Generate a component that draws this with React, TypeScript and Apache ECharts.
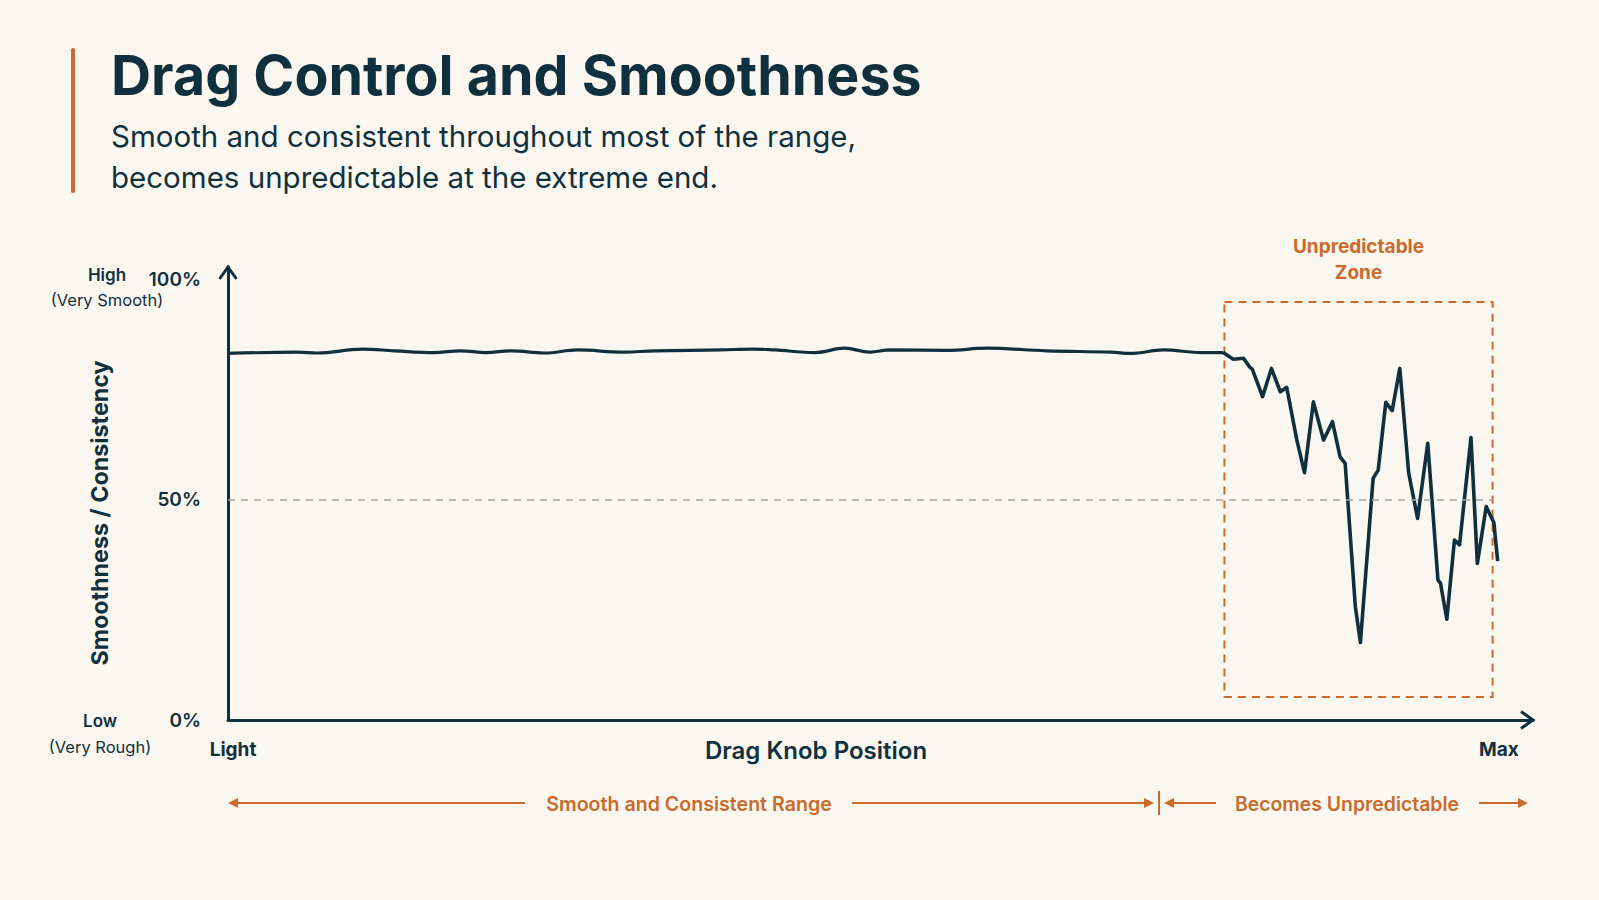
import React, { useEffect, useRef } from "react";
import * as echarts from "echarts";

// ---- text ----
const TITLE = "Drag Control and Smoothness";
const SUBTITLE = [
  "Smooth and consistent throughout most of the range,",
  "becomes unpredictable at the extreme end.",
];
const Y_NAME = "Smoothness / Consistency";
const X_NAME = "Drag Knob Position";
const ZONE_LABEL = "Unpredictable\nZone";
const RANGE_LABELS = ["Smooth and Consistent Range", "Becomes Unpredictable"];

// ---- axis ticks ----
const yTicks = [0, 50, 100];
const xTicks = [0, 100];
const xTickNames = ["Light", "Max"];

// ---- data: knob position (0–100) vs smoothness (%) ----
const steadyX = [0, 5.5, 7.0, 10.6, 13.1, 16.2, 18.3, 20.3, 22.3, 24.9, 27.5, 31.1, 33.6, 38.7, 41.3, 43.0, 46.2, 48.5, 50.5, 52.1, 56.6, 59.7, 64.4, 69.5, 71.0, 73.6, 76.6, 78.3];
const steadyY = [83.3, 83.6, 83.4, 84.3, 83.9, 83.5, 83.9, 83.5, 83.9, 83.4, 84.1, 83.6, 83.9, 84.1, 84.3, 84.1, 83.5, 84.5, 83.6, 84.1, 84.0, 84.5, 83.9, 83.6, 83.3, 84.1, 83.5, 83.5];

const erraticX = [78.3, 79.1, 79.9, 80.4, 80.6, 81.4, 82.1, 82.8, 83.3, 84.1, 84.7, 85.4, 86.2, 86.9, 87.5, 87.9, 88.7, 89.1, 90.1, 90.5, 91.1, 91.6, 92.2, 92.9, 93.6, 94.4, 95.2, 95.4, 95.9, 96.5, 96.9, 97.8, 98.3, 99.0, 99.6, 99.9];
const erraticY = [83.5, 82.0, 82.2, 80.2, 79.7, 73.5, 79.9, 74.6, 75.6, 63.6, 56.2, 72.3, 63.6, 67.8, 59.8, 58.3, 25.8, 17.6, 54.9, 56.8, 72.2, 70.3, 79.9, 56.1, 45.8, 62.9, 31.8, 31.1, 22.9, 40.9, 39.8, 64.2, 35.6, 48.5, 44.9, 36.1];

// reference line and unpredictable zone bounds
const midline = 50;
const midlineEnd = 99.5;
const zoneX = [78.4, 99.5];
const zoneY = [5.2, 95];

const INK = "#11303e";
const ORANGE = "#cb6a2a";
const BG = "#faf7f0";
const FONT = "Inter, 'Noto Sans', sans-serif";

export default function App() {
  const ref = useRef<HTMLDivElement>(null);

  useEffect(() => {
    if (!ref.current) return;
    const chart = echarts.init(ref.current, undefined, { renderer: "svg" });

    const steady = steadyX.map((x, i) => [x, steadyY[i]]);
    const erratic = erraticX.map((x, i) => [x, erraticY[i]]);

    const txt = (text: string, x: number, y: number, o: any = {}) => ({
      type: "text",
      x,
      y,
      silent: true,
      rotation: o.rotation || 0,
      style: {
        text,
        fill: o.fill || INK,
        fontSize: o.fontSize || 16,
        fontWeight: o.fontWeight || 400,
        fontFamily: FONT,
        align: o.align || "left",
        verticalAlign: "middle",
      },
    });
    const seg = (x1: number, y1: number, x2: number, y2: number, color = ORANGE, w = 2) => ({
      type: "line",
      silent: true,
      shape: { x1, y1, x2, y2 },
      style: { stroke: color, lineWidth: w },
    });
    const head = (x: number, y: number, dir: number) => ({
      type: "polygon",
      silent: true,
      shape: { points: [[x, y], [x - dir * 10, y - 5], [x - dir * 10, y + 5]] },
      style: { fill: ORANGE },
    });

    const option: any = {
      animation: false,
      backgroundColor: BG,
      textStyle: { fontFamily: FONT },
      grid: { left: 228, top: 267, width: 1305, height: 453, containLabel: false },
      xAxis: {
        type: "value",
        min: 0,
        max: 102.68,
        axisLine: { show: true, onZero: false, lineStyle: { color: INK, width: 3 } },
        axisTick: { show: false },
        splitLine: { show: false },
        axisLabel: {
          customValues: xTicks,
          formatter: (v: number) => {
            const i = xTicks.indexOf(v);
            return i === 0 ? `{first|${xTickNames[0]}}` : xTickNames[i] ?? "";
          },
          rich: {
            first: {
              color: INK,
              fontSize: 19,
              fontWeight: 700,
              fontFamily: FONT,
              padding: [0, 0, 0, 10],
            },
          },
          color: INK,
          fontSize: 19,
          fontWeight: 700,
          fontFamily: FONT,
          margin: 20,
        },
      },
      yAxis: {
        type: "value",
        min: 0,
        max: 102.95,
        axisLine: { show: true, onZero: false, lineStyle: { color: INK, width: 3 } },
        axisTick: { show: false },
        splitLine: { show: false },
        axisLabel: {
          customValues: yTicks,
          formatter: (v: number) => `${v}%`,
          color: INK,
          fontSize: 19,
          fontWeight: 600,
          fontFamily: FONT,
          margin: 27,
        },
      },
      series: [
        {
          type: "line",
          data: steady,
          smooth: 0.4,
          symbol: "none",
          lineStyle: { color: INK, width: 3.2 },
          z: 3,
          markLine: {
            silent: true,
            symbol: "none",
            label: { show: false },
            lineStyle: { color: "#a9a7a2", width: 1.5, type: [7, 6] },
            data: [[{ coord: [0, midline] }, { coord: [midlineEnd, midline] }]],
          },
        },
        {
          type: "line",
          data: erratic,
          symbol: "none",
          lineStyle: { color: INK, width: 3.6, join: "round" },
          z: 3,
          markArea: {
            silent: true,
            itemStyle: {
              color: "rgba(0,0,0,0)",
              borderColor: ORANGE,
              borderWidth: 2,
              borderType: [8, 6],
            },
            label: {
              show: true,
              position: "top",
              distance: 15,
              formatter: ZONE_LABEL,
              color: ORANGE,
              fontSize: 19,
              fontWeight: 700,
              lineHeight: 26,
              fontFamily: FONT,
              align: "center",
            },
            data: [[{ coord: [zoneX[0], zoneY[1]] }, { coord: [zoneX[1], zoneY[0]] }]],
          },
        },
      ],
      graphic: [
        { type: "rect", silent: true, shape: { x: 71, y: 48, width: 4, height: 145, r: 2 }, style: { fill: ORANGE } },
        txt(TITLE, 111, 74, { fontSize: 55.5, fontWeight: 700 }),
        txt(SUBTITLE[0], 111, 136, { fontSize: 29.5 }),
        txt(SUBTITLE[1], 111, 177, { fontSize: 29.5 }),
        txt("High", 107, 275, { fontSize: 17, fontWeight: 600, align: "center" }),
        txt("(Very Smooth)", 107, 300, { fontSize: 16.5, align: "center" }),
        txt("Low", 100, 721, { fontSize: 17, fontWeight: 600, align: "center" }),
        txt("(Very Rough)", 100, 747, { fontSize: 16.5, align: "center" }),
        txt(Y_NAME, 99, 513, { fontSize: 23.3, fontWeight: 700, align: "center", rotation: Math.PI / 2 }),
        txt(X_NAME, 816, 750, { fontSize: 24, fontWeight: 600, align: "center" }),
        // axis arrow heads
        {
          type: "polyline",
          silent: true,
          shape: { points: [[219.5, 279], [228, 267], [236.5, 279]] },
          style: { stroke: INK, lineWidth: 3, fill: null, lineJoin: "miter" },
        },
        {
          type: "polyline",
          silent: true,
          shape: { points: [[1521, 711.5], [1533, 720], [1521, 728.5]] },
          style: { stroke: INK, lineWidth: 3, fill: null, lineJoin: "miter" },
        },
        // range annotation below the axis
        seg(234, 803, 525, 803),
        head(228, 803, -1),
        txt(RANGE_LABELS[0], 689, 804, { fontSize: 19.6, fontWeight: 600, fill: ORANGE, align: "center" }),
        seg(852, 803, 1147, 803),
        head(1154, 803, 1),
        seg(1159, 791, 1159, 815),
        head(1164, 803, -1),
        seg(1170, 803, 1216, 803),
        txt(RANGE_LABELS[1], 1347, 804, { fontSize: 19.4, fontWeight: 600, fill: ORANGE, align: "center" }),
        seg(1479, 803, 1521, 803),
        head(1528, 803, 1),
      ],
    };

    chart.setOption(option);
    return () => chart.dispose();
  }, []);

  return (
    <div
      ref={ref}
      style={{ position: "fixed", left: 0, top: 0, width: 1599, height: 900, background: BG }}
    />
  );
}
